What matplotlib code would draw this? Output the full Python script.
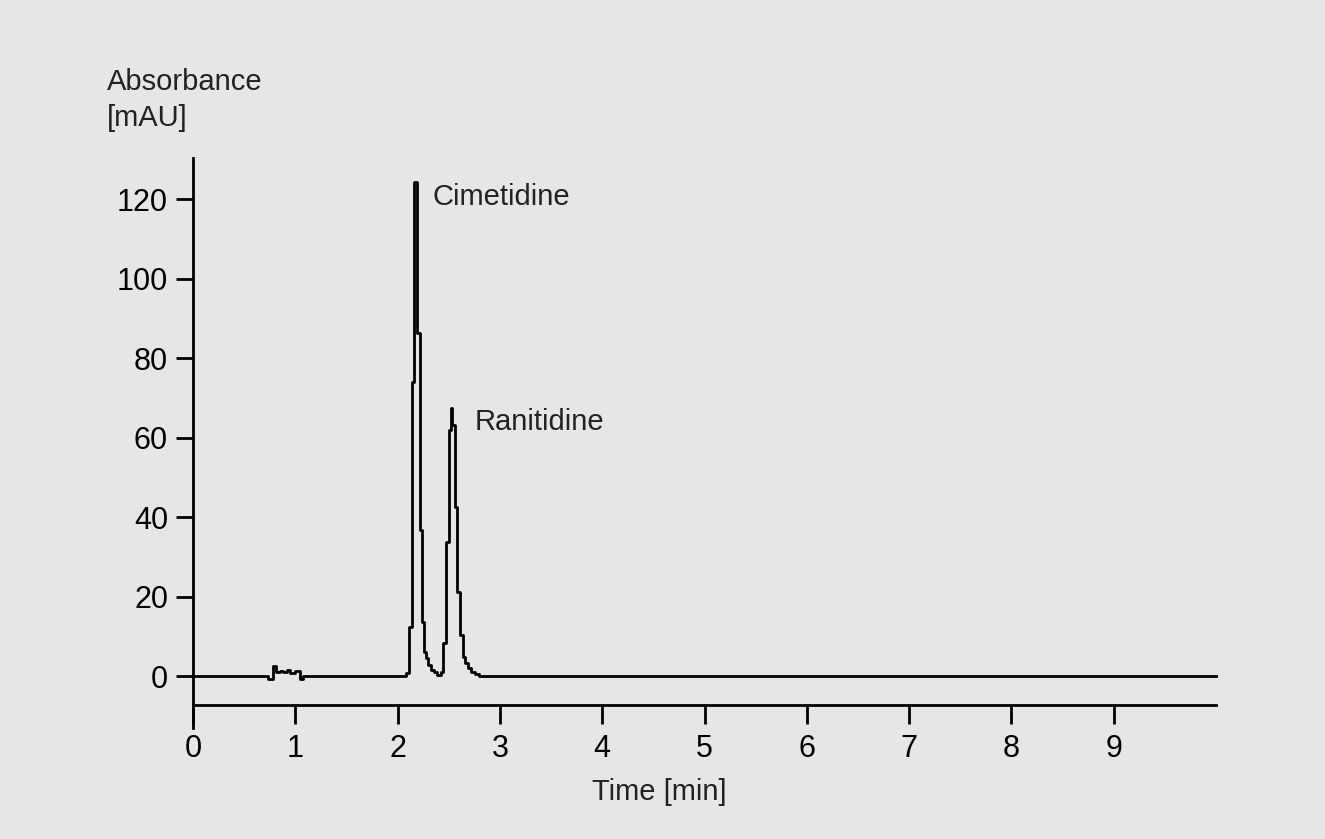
import matplotlib
matplotlib.use("Agg")
import matplotlib.pyplot as plt

# chromatogram (stepped detector signal)
time_min = [0.0, 0.736, 0.779, 0.808, 0.850, 0.883, 0.916, 0.948, 0.997, 1.046, 1.078,
            2.08, 2.115, 2.145, 2.165, 2.19, 2.215, 2.235, 2.26, 2.28, 2.30, 2.325,
            2.355, 2.39, 2.42, 2.445, 2.47, 2.50, 2.52, 2.535, 2.56, 2.585, 2.61,
            2.64, 2.66, 2.69, 2.715, 2.755, 2.80, 10.0]
absorbance = [0.0, -0.8, 2.6, 1.0, 1.3, 0.9, 1.5, 0.7, 1.3, -0.8, 0.0,
              0.8, 12.4, 74.0, 124.4, 86.3, 36.7, 13.7, 6.1, 4.5, 2.8, 1.5,
              1.1, 0.25, 1.1, 8.2, 33.8, 61.9, 67.4, 63.1, 42.6, 21.2, 10.3,
              4.9, 3.3, 1.9, 1.1, 0.5, 0.0, 0.0]

peak_names = ["Cimetidine", "Ranitidine"]
peak_label_pos = [(2.346, 118.5), (2.757, 61.9)]

x_ticks = list(range(10))
y_ticks = [0, 20, 40, 60, 80, 100, 120]

bg = "#e6e6e6"
txt_font = ["Liberation Sans", "DejaVu Sans"]
num_font = ["Liberation Sans Narrow", "Liberation Sans", "DejaVu Sans"]
lw = 2.0

W, H = 1325, 839
fig = plt.figure(figsize=(W / 100, H / 100), dpi=100, facecolor=bg)
ax = fig.add_axes([193 / W, 1 - 727.7 / H, (1216 - 193) / W, (727.7 - 155.3) / H])
ax.set_facecolor(bg)

ax.step(time_min, absorbance, where="post", color="black", lw=lw, clip_on=False)

ax.set_xlim(0, 10)
ax.set_ylim(-13, 131)

for s in ["top", "right"]:
    ax.spines[s].set_visible(False)
ax.spines["left"].set_bounds(-13, 130.3)
ax.spines["left"].set_linewidth(lw)
ax.spines["bottom"].set_position(("data", -7.3))
ax.spines["bottom"].set_bounds(0, 10)
ax.spines["bottom"].set_linewidth(lw)

ax.set_xticks(x_ticks)
ax.set_yticks(y_ticks)
ax.tick_params(axis="x", direction="out", length=13.7, width=lw, pad=7,
               labelsize=22, labelfontfamily=num_font)
ax.tick_params(axis="y", direction="out", length=12, width=lw, pad=6,
               labelsize=22, labelfontfamily=num_font)

for name, (tx, ty) in zip(peak_names, peak_label_pos):
    ax.text(tx, ty, name, fontsize=21, family=txt_font, color="#222222",
            ha="left", va="baseline")

fig.text(107 / W, 1 - 90 / H, "Absorbance", fontsize=21, family=txt_font,
         color="#222222", ha="left", va="baseline")
fig.text(107 / W, 1 - 126 / H, "[mAU]", fontsize=21, family=txt_font,
         color="#222222", ha="left", va="baseline")
fig.text(659 / W, 1 - 800 / H, "Time [min]", fontsize=21, family=txt_font,
         color="#222222", ha="center", va="baseline")

fig.savefig("out.png", dpi=100, facecolor=bg)
